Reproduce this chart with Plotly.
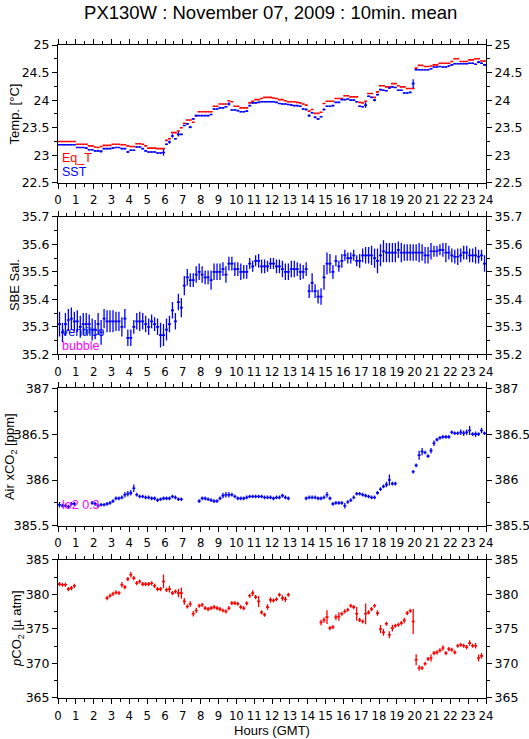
import plotly.graph_objects as go

# ---------------- data (10-minute means, hour 0..24 GMT) ----------------
hours = [i / 6 + 1 / 12 for i in range(144)]  # centre of each 10-min bin

eq_t = [
    23.25, 23.25, 23.25, 23.25, 23.25, 23.25,
    23.20, 23.20, 23.20, 23.20, 23.17, 23.17,
    23.15, 23.14, 23.16, 23.18, 23.18, 23.18,
    23.20, 23.20, 23.20, 23.19, 23.19, 23.17,
    23.16, 23.16, 23.21, 23.21, 23.20, 23.17,
    23.13, 23.13, 23.13, 23.12, 23.12, 23.12,
    23.27, 23.30, 23.41, 23.41, 23.44, 23.50,
    23.58, 23.64, 23.64, 23.60, 23.72, 23.79,
    23.79, 23.79, 23.79, 23.79, 23.89, 23.89,
    23.93, 23.93, 23.93, 23.99, 23.97, 23.89,
    23.89, 23.86, 23.86, 23.86, 23.95, 23.98,
    24.01, 24.01, 24.03, 24.05, 24.05, 24.05,
    24.04, 24.03, 24.01, 24.01, 23.99, 23.97,
    23.97, 23.97, 23.96, 23.95, 23.93, 23.91,
    23.80, 23.83, 23.76, 23.76, 23.78, 23.94,
    23.98, 23.98, 23.98, 24.03, 24.03, 24.03,
    24.08, 24.08, 24.06, 24.06, 24.06, 23.96,
    23.95, 23.98, 24.12, 24.12, 24.05, 24.15,
    24.26, 24.26, 24.24, 24.24, 24.30, 24.30,
    24.26, 24.24, 24.24, 24.21, 24.21, 24.21,
    24.58, 24.63, 24.63, 24.61, 24.61, 24.62,
    24.64, 24.64, 24.67, 24.67, 24.67, 24.67,
    24.70, 24.75, 24.75, 24.70, 24.70, 24.70,
    24.73, 24.73, 24.75, 24.75, 24.71, 24.71,
]

sst = [
    23.19, 23.19, 23.19, 23.19, 23.19, 23.19,
    23.14, 23.14, 23.14, 23.13, 23.10, 23.10,
    23.08, 23.08, 23.07, 23.12, 23.12, 23.12,
    23.13, 23.14, 23.14, 23.12, 23.12, 23.06,
    23.09, 23.09, 23.15, 23.15, 23.12, 23.08,
    23.06, 23.06, 23.06, 23.04, 23.04, 23.05,
    23.20, 23.24, 23.35, 23.30, 23.38, 23.38,
    23.54, 23.57, 23.51, 23.66, 23.72, 23.72,
    23.72, 23.72, 23.72, 23.74, 23.84, 23.84,
    23.86, 23.86, 23.88, 23.93, 23.82, 23.82,
    23.81, 23.79, 23.79, 23.80, 23.90, 23.95,
    23.95, 23.96, 23.97, 23.97, 23.97, 23.97,
    23.97, 23.96, 23.94, 23.93, 23.93, 23.92,
    23.91, 23.90, 23.90, 23.89, 23.84, 23.83,
    23.72, 23.77, 23.69, 23.66, 23.70, 23.83,
    23.89, 23.89, 23.90, 23.96, 23.96, 24.01,
    24.01, 24.02, 24.00, 24.00, 23.97, 23.89,
    23.88, 23.91, 24.07, 24.05, 24.00, 24.10,
    24.19, 24.18, 24.17, 24.22, 24.24, 24.23,
    24.18, 24.18, 24.13, 24.13, 24.14, 24.30,
    24.55, 24.55, 24.55, 24.55, 24.55, 24.57,
    24.60, 24.60, 24.61, 24.60, 24.60, 24.62,
    24.64, 24.66, 24.66, 24.66, 24.66, 24.66,
    24.67, 24.67, 24.65, 24.69, 24.67, 24.64,
]

sst_sd = [
    0.01, 0.01, 0.01, 0.01, 0.01, 0.01,
    0.01, 0.01, 0.01, 0.01, 0.01, 0.01,
    0.01, 0.01, 0.02, 0.01, 0.01, 0.01,
    0.01, 0.01, 0.01, 0.01, 0.01, 0.02,
    0.01, 0.01, 0.01, 0.01, 0.01, 0.01,
    0.01, 0.01, 0.01, 0.01, 0.01, 0.06,
    0.01, 0.03, 0.03, 0.01, 0.04, 0.01,
    0.01, 0.01, 0.02, 0.01, 0.01, 0.01,
    0.01, 0.01, 0.01, 0.01, 0.01, 0.01,
    0.01, 0.01, 0.01, 0.03, 0.01, 0.01,
    0.01, 0.01, 0.01, 0.01, 0.01, 0.01,
    0.01, 0.01, 0.01, 0.01, 0.01, 0.01,
    0.01, 0.01, 0.01, 0.01, 0.01, 0.01,
    0.01, 0.01, 0.01, 0.01, 0.01, 0.02,
    0.02, 0.01, 0.02, 0.01, 0.01, 0.02,
    0.01, 0.01, 0.01, 0.01, 0.01, 0.01,
    0.01, 0.01, 0.01, 0.01, 0.01, 0.01,
    0.01, 0.05, 0.01, 0.01, 0.02, 0.01,
    0.01, 0.01, 0.01, 0.01, 0.01, 0.01,
    0.01, 0.01, 0.01, 0.01, 0.01, 0.08,
    0.01, 0.01, 0.01, 0.01, 0.01, 0.01,
    0.01, 0.01, 0.01, 0.01, 0.01, 0.01,
    0.01, 0.01, 0.01, 0.01, 0.01, 0.01,
    0.01, 0.01, 0.01, 0.02, 0.01, 0.01,
]

sal = [
    35.31, 35.28, 35.31, 35.325, 35.33, 35.32,
    35.32, 35.30, 35.31, 35.31, 35.31, 35.29,
    35.29, 35.31, 35.28, 35.33, 35.32, 35.32,
    35.32, 35.32, 35.32, 35.30, 35.33, 35.26,
    35.26, 35.30, 35.32, 35.32, 35.32, 35.31,
    35.30, 35.32, 35.31, 35.30, 35.27, 35.27,
    35.29, 35.31, 35.36, 35.32, 35.39, 35.37,
    35.45, 35.48, 35.47, 35.47, 35.49, 35.50,
    35.49, 35.48, 35.48, 35.47, 35.50, 35.50,
    35.50, 35.51, 35.49, 35.53, 35.53, 35.51,
    35.51, 35.50, 35.50, 35.50, 35.53, 35.52,
    35.54, 35.54, 35.52, 35.52, 35.52, 35.53,
    35.53, 35.52, 35.52, 35.51, 35.50, 35.50,
    35.51, 35.51, 35.51, 35.50, 35.50, 35.51,
    35.43, 35.46, 35.43, 35.41, 35.41, 35.48,
    35.53, 35.53, 35.50, 35.54, 35.52, 35.54,
    35.56, 35.55, 35.55, 35.56, 35.54, 35.54,
    35.56, 35.56, 35.56, 35.56, 35.55, 35.54,
    35.56, 35.575, 35.57, 35.57, 35.57, 35.57,
    35.58, 35.57, 35.57, 35.57, 35.57, 35.57,
    35.57, 35.57, 35.57, 35.56, 35.56, 35.575,
    35.575, 35.575, 35.58, 35.58, 35.57, 35.57,
    35.56, 35.555, 35.555, 35.56, 35.57, 35.57,
    35.56, 35.56, 35.56, 35.555, 35.56, 35.53,
]

sal_sd = [
    0.045, 0.035, 0.04, 0.04, 0.04, 0.035,
    0.04, 0.04, 0.04, 0.04, 0.035, 0.04,
    0.035, 0.04, 0.045, 0.035, 0.04, 0.04,
    0.04, 0.035, 0.035, 0.035, 0.035, 0.03,
    0.03, 0.025, 0.03, 0.035, 0.03, 0.03,
    0.03, 0.025, 0.025, 0.03, 0.045, 0.04,
    0.04, 0.03, 0.03, 0.03, 0.03, 0.035,
    0.035, 0.03, 0.025, 0.025, 0.03, 0.03,
    0.03, 0.025, 0.025, 0.035, 0.03, 0.03,
    0.03, 0.025, 0.03, 0.025, 0.025, 0.025,
    0.025, 0.03, 0.025, 0.025, 0.02, 0.02,
    0.02, 0.025, 0.025, 0.025, 0.02, 0.02,
    0.02, 0.025, 0.025, 0.03, 0.03, 0.03,
    0.03, 0.03, 0.025, 0.03, 0.025, 0.025,
    0.025, 0.035, 0.025, 0.025, 0.03, 0.045,
    0.04, 0.035, 0.025, 0.02, 0.02, 0.025,
    0.02, 0.02, 0.02, 0.02, 0.02, 0.025,
    0.025, 0.03, 0.03, 0.035, 0.035, 0.045,
    0.04, 0.04, 0.035, 0.035, 0.035, 0.035,
    0.03, 0.035, 0.03, 0.03, 0.03, 0.03,
    0.03, 0.035, 0.03, 0.03, 0.03, 0.03,
    0.02, 0.02, 0.02, 0.025, 0.035, 0.025,
    0.025, 0.025, 0.03, 0.025, 0.025, 0.025,
    0.025, 0.025, 0.03, 0.025, 0.02, 0.03,
]

N = None
xco2 = [
    385.73, 385.72, 385.72, 385.71, 385.74, 385.74,
    N, N, N, N, N, 385.75,
    385.74, 385.72, 385.73, 385.73, 385.74, 385.75,
    385.77, 385.80, 385.80, 385.81, 385.84, 385.85,
    385.86, 385.91, 385.84, 385.82, 385.82, 385.81,
    385.81, 385.80, 385.80, 385.78, 385.79, 385.80,
    385.80, 385.80, 385.82, 385.81, 385.79, 385.79,
    N, N, N, N, N, 385.77,
    385.80, 385.80, 385.79, 385.78, 385.77, 385.77,
    385.80, 385.83, 385.84, 385.84, 385.84, 385.82,
    385.80, 385.80, 385.80, 385.81, 385.82, 385.82,
    385.82, 385.82, 385.82, 385.81, 385.81, 385.81,
    385.80, 385.81, 385.81, 385.83, 385.81, 385.80,
    N, N, N, N, N, 385.80,
    385.81, 385.81, 385.81, 385.80, 385.80, 385.81,
    385.84, 385.80, 385.74, 385.75, 385.75, 385.75,
    385.72, 385.76, 385.78, 385.81, 385.85, 385.85,
    385.84, 385.83, 385.82, 385.81, 385.81, 385.86,
    385.90, 385.93, 385.95, 386.00, 385.96, 385.96,
    N, N, N, N, N, 386.09,
    386.16, 386.27, 386.31, 386.30, 386.26, 386.32,
    386.40, 386.44, 386.46, 386.47, 386.47, 386.47,
    386.52, 386.51, 386.51, 386.52, 386.51, 386.52,
    386.54, 386.50, 386.50, 386.50, 386.54, 386.51,
]

xco2_sd = [
    0.03, 0.02, 0.02, 0.02, 0.02, 0.02,
    0.02, 0.02, 0.02, 0.02, 0.02, 0.02,
    0.02, 0.02, 0.02, 0.02, 0.02, 0.02,
    0.02, 0.02, 0.02, 0.02, 0.03, 0.03,
    0.03, 0.04, 0.02, 0.02, 0.02, 0.02,
    0.02, 0.02, 0.02, 0.02, 0.02, 0.02,
    0.02, 0.02, 0.02, 0.02, 0.02, 0.02,
    0.02, 0.02, 0.02, 0.02, 0.02, 0.02,
    0.02, 0.02, 0.02, 0.02, 0.02, 0.02,
    0.02, 0.03, 0.03, 0.03, 0.02, 0.02,
    0.02, 0.02, 0.02, 0.02, 0.02, 0.02,
    0.02, 0.02, 0.02, 0.02, 0.02, 0.02,
    0.02, 0.02, 0.02, 0.02, 0.02, 0.02,
    0.02, 0.02, 0.02, 0.02, 0.02, 0.02,
    0.02, 0.02, 0.02, 0.02, 0.02, 0.02,
    0.03, 0.02, 0.02, 0.02, 0.02, 0.02,
    0.03, 0.02, 0.02, 0.02, 0.02, 0.02,
    0.02, 0.02, 0.02, 0.02, 0.02, 0.02,
    0.02, 0.02, 0.03, 0.06, 0.02, 0.02,
    0.02, 0.02, 0.02, 0.02, 0.02, 0.02,
    0.02, 0.05, 0.04, 0.02, 0.02, 0.03,
    0.03, 0.02, 0.02, 0.02, 0.02, 0.02,
    0.02, 0.02, 0.02, 0.03, 0.03, 0.03,
    0.05, 0.02, 0.03, 0.02, 0.03, 0.02,
]

pco2 = [
    381.48, 381.40, 381.40, 380.76, 380.90, 381.24,
    N, N, N, N, N, N,
    N, N, N, N, 379.46, 379.80,
    380.08, 380.28, 380.20, 381.40, 381.05, 382.20,
    382.83, 382.35, 381.63, 381.87, 381.48, 381.48,
    381.48, 381.60, 381.24, 380.76, 380.76, 381.87,
    380.66, 380.76, 380.18, 380.42, 380.18, 380.18,
    378.98, 378.25, 378.60, 377.19, 377.67, 378.35,
    378.49, 378.01, 377.87, 378.01, 378.16, 378.01,
    377.87, 377.67, 377.53, 378.00, 378.73, 378.73,
    378.64, 378.16, 378.00, 378.70, 379.80, 380.18,
    379.60, 378.98, 377.40, 377.05, 378.16, 379.20,
    379.12, 379.30, 379.94, 379.46, 379.30, 379.94,
    N, N, N, N, N, N,
    N, N, N, N, 375.94, 376.30,
    376.70, 375.12, 375.27, 376.70, 376.80, 377.19,
    377.53, 377.77, 378.35, 378.16, 377.19, 376.30,
    376.08, 377.19, 377.40, 377.87, 378.35, 377.29,
    374.98, 374.50, 375.75, 374.16, 375.12, 375.46,
    375.60, 375.84, 376.23, 377.29, 377.63, 376.08,
    370.54, 369.34, 369.34, 369.96, 370.64, 370.78,
    371.50, 371.60, 371.90, 372.23, 371.50, 372.08,
    371.99, 371.60, 372.57, 372.71, 372.57, 372.37,
    372.95, 372.57, 372.57, 370.78, 371.10, N,
]

pco2_sd = [
    0.3, 0.3, 0.3, 0.3, 0.3, 0.3,
    0.3, 0.3, 0.3, 0.3, 0.3, 0.3,
    0.3, 0.3, 0.3, 0.3, 0.3, 0.3,
    0.3, 0.3, 0.3, 0.4, 0.3, 0.3,
    0.4, 0.3, 0.3, 0.3, 0.3, 0.3,
    0.3, 0.3, 0.3, 0.3, 0.3, 1.0,
    0.3, 0.5, 0.3, 0.3, 0.6, 0.8,
    0.5, 0.3, 0.4, 0.4, 0.4, 0.3,
    0.3, 0.3, 0.3, 0.3, 0.3, 0.3,
    0.3, 0.3, 0.3, 0.3, 0.3, 0.3,
    0.3, 0.3, 0.3, 0.3, 0.3, 0.4,
    0.3, 0.8, 0.3, 0.3, 0.4, 0.4,
    0.3, 0.3, 0.3, 0.4, 0.4, 0.3,
    0.3, 0.3, 0.3, 0.3, 0.3, 0.3,
    0.3, 0.3, 0.3, 0.3, 0.4, 0.4,
    1.0, 0.3, 0.3, 0.4, 0.6, 0.3,
    0.3, 0.3, 0.3, 0.3, 1.0, 0.3,
    0.3, 1.5, 0.3, 0.3, 0.3, 0.4,
    0.6, 0.5, 0.3, 0.5, 0.5, 0.3,
    0.3, 0.3, 0.4, 0.3, 0.3, 1.8,
    0.8, 0.4, 0.3, 0.3, 0.3, 0.5,
    0.3, 0.3, 0.3, 0.4, 0.3, 0.3,
    0.3, 0.3, 0.3, 0.3, 0.3, 0.3,
    0.4, 0.3, 0.4, 0.5, 0.4, 0.3,
]

hour_ticks = list(range(0, 25))
temp_ticks = [22.5, 23, 23.5, 24, 24.5, 25]
sal_ticks = [35.2, 35.3, 35.4, 35.5, 35.6, 35.7]
xco2_ticks = [385.5, 386, 386.5, 387]
pco2_ticks = [365, 370, 375, 380, 385]

# ---------------- figure ----------------
RED = "#ff0000"
BLUE = "#0000ff"
MAG = "#ff00ff"
FONT = "Liberation Sans, Arial, sans-serif"
YFONT = "DejaVu Sans, Liberation Sans, sans-serif"
XFONT = "Liberation Sans Narrow, DejaVu Sans Condensed, Liberation Sans, sans-serif"
HALF = 1 / 12

W, H = 529, 739
ML, MR, MT, MB = 58, 43, 45, 41
PW = W - ML - MR

fig = go.Figure()


def add_series(y, sd, color, xa, ya):
    ey = dict(type="data", array=sd, visible=True, color=color,
              thickness=1.3, width=0) if sd is not None else dict(visible=False)
    fig.add_trace(go.Scatter(
        x=hours, y=y, mode="markers", xaxis=xa, yaxis=ya,
        marker=dict(size=1, color=color),
        error_x=dict(type="constant", value=HALF, color=color, thickness=1.6, width=0),
        error_y=ey, showlegend=False, hoverinfo="skip"))


add_series(eq_t, None, RED, "x", "y")
add_series(sst, sst_sd, BLUE, "x", "y")
add_series(sal, sal_sd, BLUE, "x2", "y2")
add_series(xco2, xco2_sd, BLUE, "x3", "y3")
add_series(pco2, pco2_sd, RED, "x4", "y4")

# dummy traces so that the right-hand mirror axes are drawn
for i in range(4):
    fig.add_trace(go.Scatter(x=[None], y=[None], xaxis="x" if i == 0 else f"x{i+1}",
                             yaxis=f"y{i+5}", showlegend=False, hoverinfo="skip"))

domains = [[0.7889, 1.0], [0.5263, 0.7368], [0.2636, 0.4743], [0.0, 0.2116]]
ranges = [[22.5, 25], [35.2, 35.7], [385.5, 387], [365, 385]]
tickv = [temp_ticks, sal_ticks, xco2_ticks, pco2_ticks]
minors = [0.25, 0.05, 0.25, 2.5]
titles = ["Temp. [°C]", "SBE Sal.", "Air xCO<sub>2</sub> [ppm]",
          "<i>p</i>CO<sub>2</sub> [µ atm]"]
title_xpx = [14.5, 14.5, 10, 18]

xtickfont = dict(family=XFONT, size=13, color="black")
ytickfont = dict(family=YFONT, size=12.5, color="black")
layout = {}
for i in range(4):
    xn = "xaxis" if i == 0 else f"xaxis{i+1}"
    yn = "yaxis" if i == 0 else f"yaxis{i+1}"
    yid = "y" if i == 0 else f"y{i+1}"
    xid = "x" if i == 0 else f"x{i+1}"
    layout[xn] = dict(
        domain=[0, 1], anchor=yid, range=[0, 24], tickmode="array",
        tickvals=hour_ticks, ticktext=[str(h) for h in hour_ticks],
        ticks="outside", ticklen=5, tickwidth=1, tickcolor="black",
        showline=True, linecolor="black", linewidth=1, mirror="ticks",
        showgrid=False, zeroline=False, tickfont=xtickfont, automargin=False,
        minor=dict(dtick=0.5, tick0=0, ticks="outside", ticklen=3,
                   tickcolor="black", showgrid=False),
    )
    common_y = dict(
        range=ranges[i], tickmode="array", tickvals=tickv[i],
        ticktext=[f"{v:g}" for v in tickv[i]],
        ticks="outside", ticklen=5, tickwidth=1, tickcolor="black",
        showline=True, linecolor="black", linewidth=1, automargin=False,
        showgrid=False, zeroline=False, tickfont=ytickfont,
        minor=dict(dtick=minors[i], tick0=ranges[i][0], ticks="outside",
                   ticklen=3, tickcolor="black", showgrid=False),
    )
    layout[yn] = dict(common_y, domain=domains[i], anchor=xid)
    layout[f"yaxis{i+5}"] = dict(common_y, overlaying=yid, side="right", anchor=xid)

layout["xaxis4"]["title"] = dict(text="Hours (GMT)", font=dict(family=FONT, size=13, color="black"),
                                 standoff=4)

fig.update_layout(**layout)

# y-axis titles (rotated text)
for i in range(4):
    d = domains[i]
    fig.add_annotation(x=(title_xpx[i] - ML) / PW, y=(d[0] + d[1]) / 2,
                       xref="paper", yref="paper", text=titles[i], textangle=-90,
                       showarrow=False, xanchor="center", yanchor="middle",
                       font=dict(family=FONT, size=13, color="black"))

annots = [
    dict(x=0.1, y=22.95, xref="x", yref="y", text="Eq_T", c=RED),
    dict(x=0.1, y=22.69, xref="x", yref="y", text="SST", c=BLUE),
    dict(x=0.1, y=35.281, xref="x2", yref="y2", text="ventilco", c=BLUE),
    dict(x=0.1, y=35.231, xref="x2", yref="y2", text="bubble", c=MAG),
    dict(x=0.1, y=385.73, xref="x3", yref="y3", text="lo2 0.3", c=MAG),
]
for a in annots:
    fig.add_annotation(x=a["x"], y=a["y"], xref=a["xref"], yref=a["yref"],
                       text=a["text"], showarrow=False, xanchor="left", yanchor="middle",
                       font=dict(family=FONT, size=12.5, color=a["c"]))

fig.update_layout(
    width=W, height=H,
    margin=dict(l=ML, r=MR, t=MT, b=MB),
    paper_bgcolor="white", plot_bgcolor="white",
    title=dict(text="PX130W : November 07, 2009 : 10min. mean",
               font=dict(family=FONT, size=18.5, color="black"),
               x=0.497, xanchor="center", xref="paper",
               y=1 - 12.5 / H, yanchor="middle", yref="container"),
    showlegend=False,
)

# remove the browser's default 8px body margin so the figure sits at (0, 0)
fig.write_html("out.html", config={"displayModeBar": False},
               post_script="document.body.style.margin='0px';document.body.style.padding='0px';")
